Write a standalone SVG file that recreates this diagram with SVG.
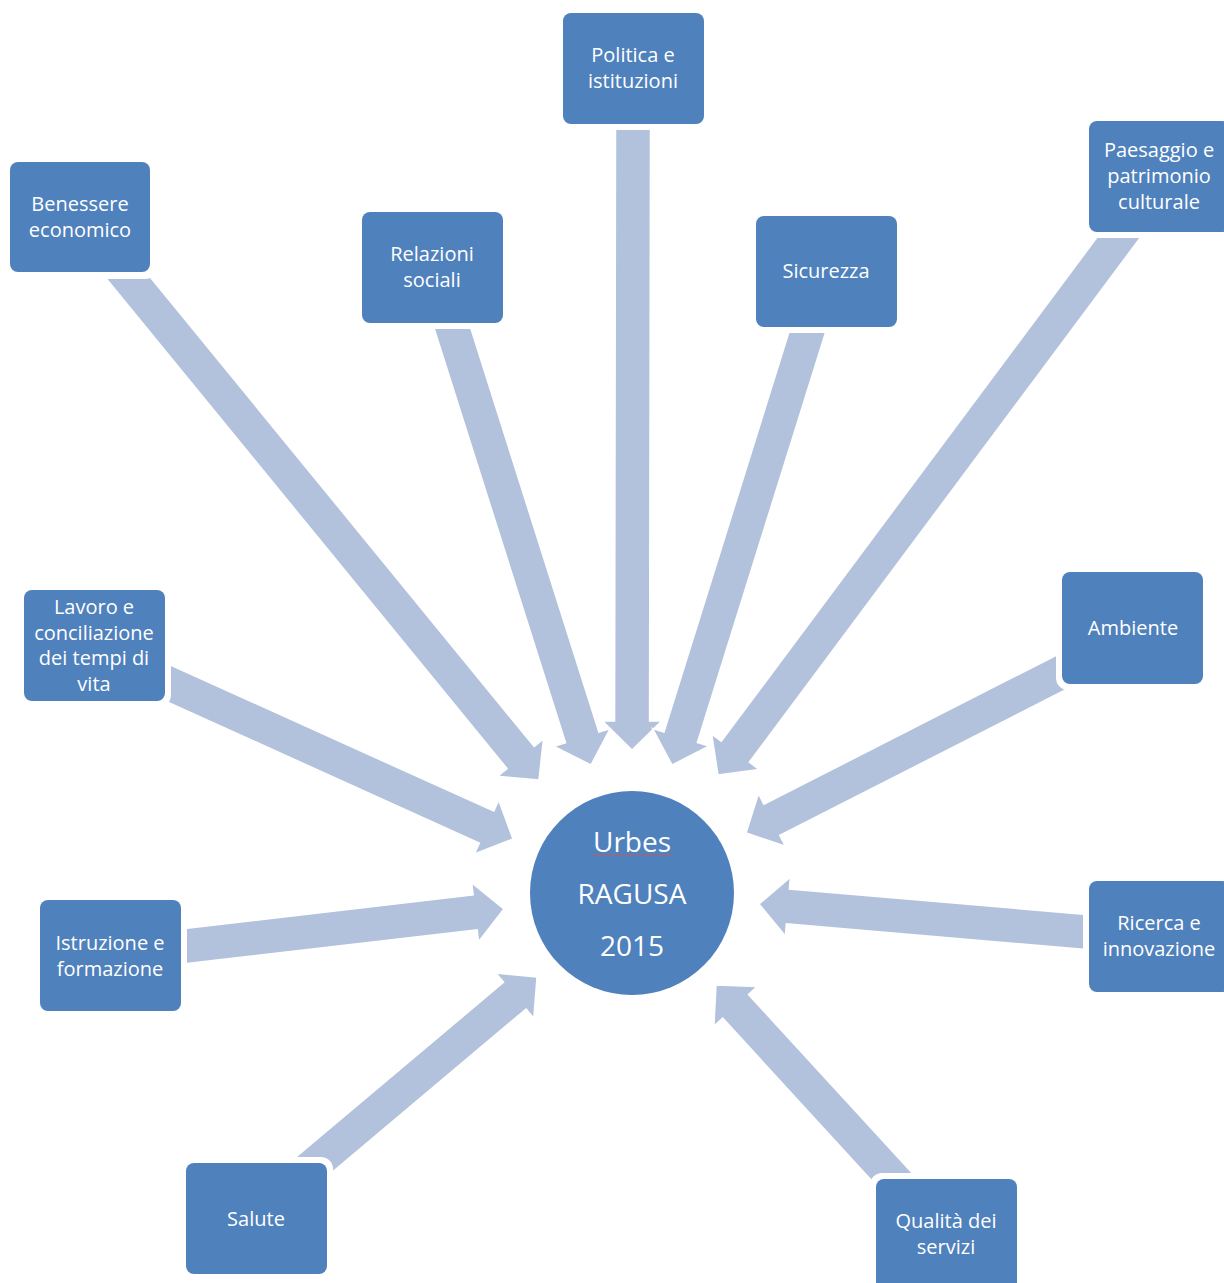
<svg xmlns="http://www.w3.org/2000/svg" width="1224" height="1283" viewBox="0 0 1224 1283">
<style>
.arr{fill:#B3C2DC;stroke:#FFFFFF;stroke-width:1.5;stroke-linejoin:miter}
.halo{fill:#FFFFFF}
.box{fill:#4F81BD}
.t{font-family:"Open Sans","Noto Sans","Liberation Sans",sans-serif;font-size:20px;fill:#FFFFFF;text-anchor:middle}
.c{font-family:"Open Sans","Noto Sans","Liberation Sans",sans-serif;font-size:28px;fill:#FFFFFF;text-anchor:middle}
</style>
<rect width="1224" height="1283" fill="#FFFFFF"/>
<g id="connectors">
<polygon class="arr" transform="translate(130,280) rotate(50.72)" points="-25,-17.5 617,-17.5 617,-29.5 646,0 617,29.5 617,17.5 -25,17.5"/>
<polygon class="arr" transform="translate(453,330) rotate(72.40)" points="-25,-17.5 427.4,-17.5 427.4,-29.5 456.4,0 427.4,29.5 427.4,17.5 -25,17.5"/>
<polygon class="arr" transform="translate(633,128) rotate(90.09)" points="-25,-17.5 593,-17.5 593,-29.5 622,0 593,29.5 593,17.5 -25,17.5"/>
<polygon class="arr" transform="translate(807,333) rotate(107.35)" points="-25,-17.5 423.6,-17.5 423.6,-29.5 452.6,0 423.6,29.5 423.6,17.5 -25,17.5"/>
<polygon class="arr" transform="translate(1119,237) rotate(126.70)" points="-25,-17.5 642,-17.5 642,-29.5 671,0 642,29.5 642,17.5 -25,17.5"/>
<polygon class="arr" transform="translate(170,684) rotate(24.32)" points="-25,-17.5 347.4,-17.5 347.4,-29.5 376.4,0 347.4,29.5 347.4,17.5 -25,17.5"/>
<polygon class="arr" transform="translate(186,946) rotate(-6.64)" points="-25,-17.5 291.1,-17.5 291.1,-29.5 320.1,0 291.1,29.5 291.1,17.5 -25,17.5"/>
<polygon class="arr" transform="translate(310,1168) rotate(-40.08)" points="-25,-17.5 267.7,-17.5 267.7,-29.5 296.7,0 267.7,29.5 267.7,17.5 -25,17.5"/>
<polygon class="arr" transform="translate(1062,672) rotate(153.0)" points="-25,-17.5 325.6,-17.5 325.6,-29.5 354.6,0 325.6,29.5 325.6,17.5 -25,17.5"/>
<polygon class="arr" transform="translate(1086,932) rotate(-175.11)" points="-25,-17.5 299.2,-17.5 299.2,-29.5 328.2,0 299.2,29.5 299.2,17.5 -25,17.5"/>
<polygon class="arr" transform="translate(893,1178) rotate(-132.52)" points="-25,-17.5 232.9,-17.5 232.9,-29.5 261.9,0 232.9,29.5 232.9,17.5 -25,17.5"/>
</g>
<g id="node-politica">
<rect class="halo" x="557" y="7" width="153" height="123" rx="12"/>
<rect class="box" x="563" y="13" width="141" height="111" rx="8"/>
<text class="t" x="633" y="62">Politica e</text>
<text class="t" x="633" y="88">istituzioni</text>
</g>
<g id="node-benessere">
<rect class="halo" x="4" y="156" width="153" height="123" rx="12"/>
<rect class="box" x="10" y="162" width="140" height="110" rx="8"/>
<text class="t" x="80" y="211">Benessere</text>
<text class="t" x="80" y="237">economico</text>
</g>
<g id="node-relazioni">
<rect class="halo" x="356" y="206" width="153" height="123" rx="12"/>
<rect class="box" x="362" y="212" width="141" height="111" rx="8"/>
<text class="t" x="432" y="261">Relazioni</text>
<text class="t" x="432" y="287">sociali</text>
</g>
<g id="node-sicurezza">
<rect class="halo" x="750" y="210" width="153" height="123" rx="12"/>
<rect class="box" x="756" y="216" width="141" height="111" rx="8"/>
<text class="t" x="826" y="278">Sicurezza</text>
</g>
<g id="node-paesaggio">
<rect class="halo" x="1083" y="115" width="153" height="123" rx="12"/>
<rect class="box" x="1089" y="121" width="141" height="111" rx="8"/>
<text class="t" x="1159" y="157">Paesaggio e</text>
<text class="t" x="1159" y="183">patrimonio</text>
<text class="t" x="1159" y="209">culturale</text>
</g>
<g id="node-lavoro">
<rect class="halo" x="18" y="584" width="153" height="123" rx="12"/>
<rect class="box" x="24" y="590" width="141" height="111" rx="8"/>
<text class="t" x="94" y="614">Lavoro e</text>
<text class="t" x="94" y="640">conciliazione</text>
<text class="t" x="94" y="665">dei tempi di</text>
<text class="t" x="94" y="691">vita</text>
</g>
<g id="node-ambiente">
<rect class="halo" x="1056" y="566" width="153" height="124" rx="12"/>
<rect class="box" x="1062" y="572" width="141" height="112" rx="8"/>
<text class="t" x="1133" y="635">Ambiente</text>
</g>
<g id="node-istruzione">
<rect class="halo" x="34" y="894" width="153" height="123" rx="12"/>
<rect class="box" x="40" y="900" width="141" height="111" rx="8"/>
<text class="t" x="110" y="950">Istruzione e</text>
<text class="t" x="110" y="976">formazione</text>
</g>
<g id="node-ricerca">
<rect class="halo" x="1083" y="875" width="153" height="123" rx="12"/>
<rect class="box" x="1089" y="881" width="141" height="111" rx="8"/>
<text class="t" x="1159" y="930">Ricerca e</text>
<text class="t" x="1159" y="956">innovazione</text>
</g>
<g id="node-salute">
<rect class="halo" x="180" y="1157" width="153" height="123" rx="12"/>
<rect class="box" x="186" y="1163" width="141" height="111" rx="8"/>
<text class="t" x="256" y="1226">Salute</text>
</g>
<g id="node-qualita">
<rect class="halo" x="870" y="1173" width="153" height="123" rx="12"/>
<rect class="box" x="876" y="1179" width="141" height="111" rx="8"/>
<text class="t" x="946" y="1228">Qualità dei</text>
<text class="t" x="946" y="1254">servizi</text>
</g>
<g id="node-center">
<circle class="box" cx="632" cy="893" r="102"/>
<text class="c" x="632" y="852">Urbes</text>
<line x1="592" y1="854.5" x2="672" y2="854.5" stroke="#D9534F" stroke-width="1" opacity="0.8"/>
<text class="c" x="632" y="904">RAGUSA</text>
<text class="c" x="632" y="956">2015</text>
</g>
</svg>
